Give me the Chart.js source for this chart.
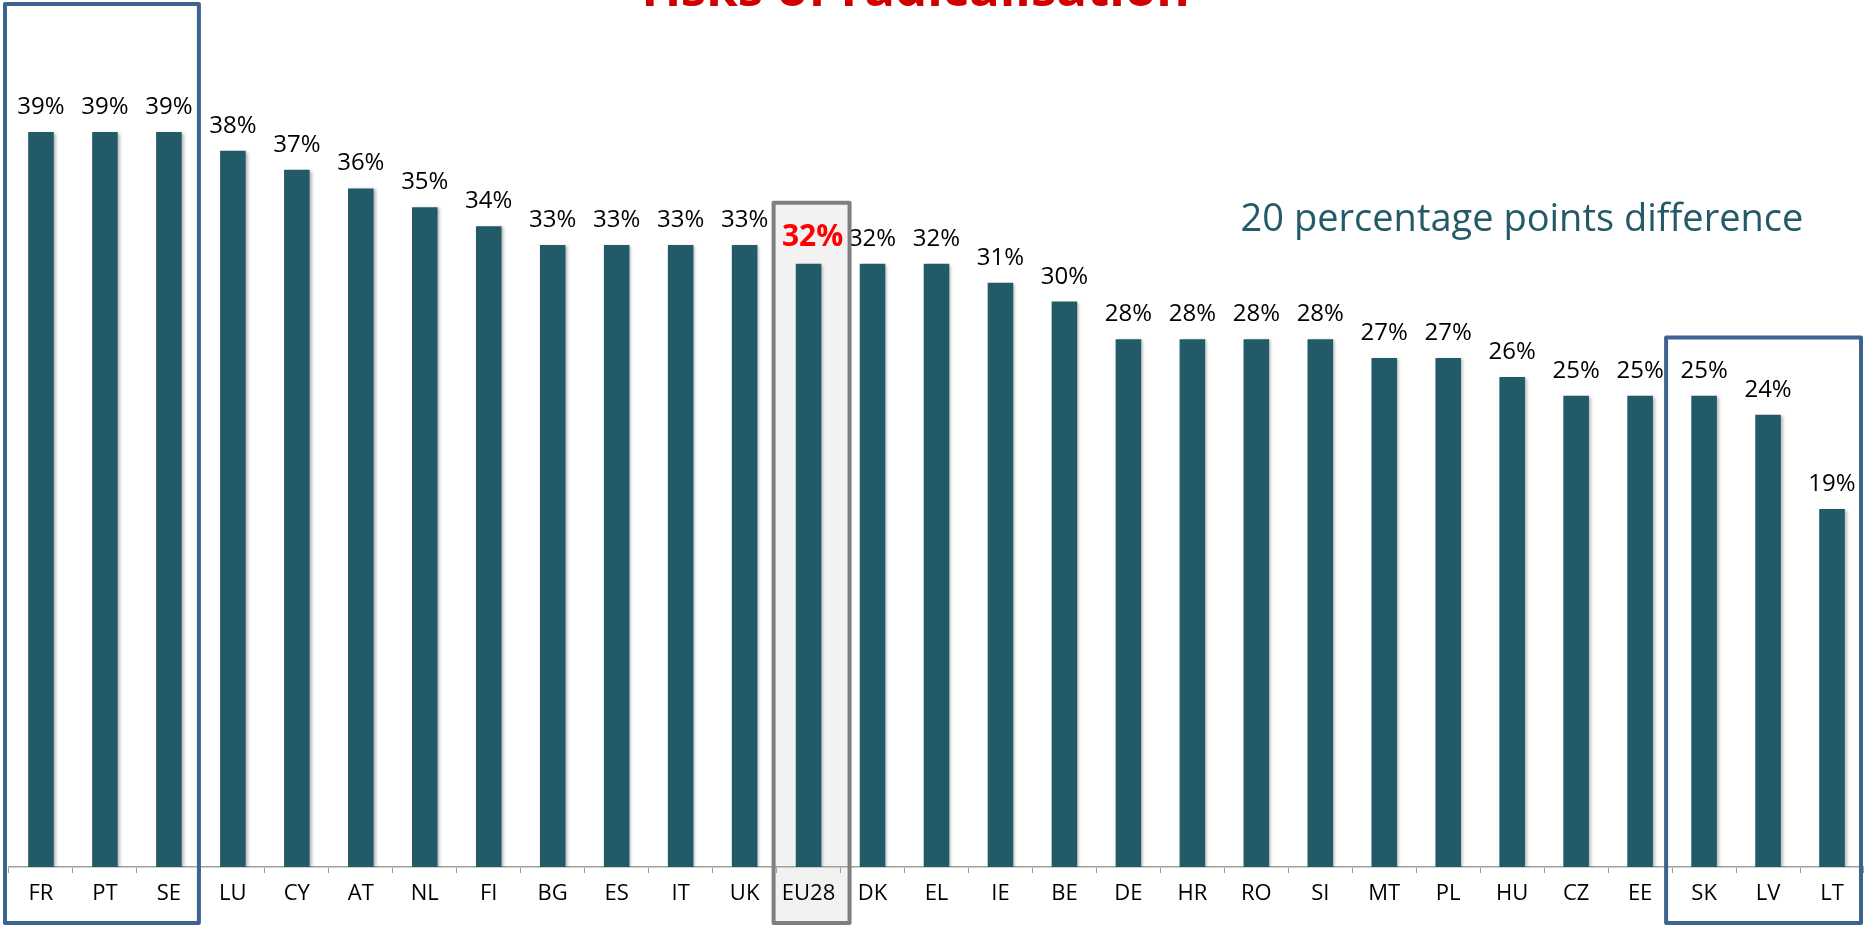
<!DOCTYPE html>
<html>
<head>
<meta charset="utf-8">
<script src="https://cdn.jsdelivr.net/npm/chart.js@4/dist/chart.umd.min.js"></script>
<style>
  html, body { margin: 0; padding: 0; background: #ffffff; }
  #wrap { width: 1864px; height: 927px; position: relative; }
  canvas { display: block; }
</style>
</head>
<body>
<div id="wrap"><canvas id="c" width="1864" height="927"></canvas></div>
<script>
// ---- data ----
const categories = ['FR','PT','SE','LU','CY','AT','NL','FI','BG','ES','IT','UK','EU28','DK','EL','IE','BE','DE','HR','RO','SI','MT','PL','HU','CZ','EE','SK','LV','LT'];
const values = [39,39,39,38,37,36,35,34,33,33,33,33,32,32,32,31,30,28,28,28,28,27,27,26,25,25,25,24,19];
const titleText = 'risks of radicalisation';
const noteText = '20 percentage points difference';
const highlightCategory = 'EU28';
const topGroup = ['FR','PT','SE'];
const bottomGroup = ['SK','LV','LT'];

const FONT = '"Open Sans", "DejaVu Sans", sans-serif';
const BAR_COLOR = '#225a68';

function catEdges(xs, name) {
  const i = categories.indexOf(name);
  const c = xs.getPixelForValue(i);
  const w = (xs.right - xs.left) / categories.length;
  return [c - w / 2, c + w / 2];
}

const decorPlugin = {
  id: 'decor',
  beforeDraw(chart) {
    const ctx = chart.ctx;
    const xs = chart.scales.x;
    const ys = chart.scales.y;
    const [l, r] = catEdges(xs, highlightCategory);
    const v = values[categories.indexOf(highlightCategory)];
    const top = ys.getPixelForValue(v) - 61;
    const x0 = l - 3, x1 = r + 9, y0 = top, y1 = 923;
    ctx.save();
    ctx.fillStyle = '#f2f2f2';
    ctx.fillRect(x0, y0, x1 - x0, y1 - y0);
    ctx.restore();
  },
  beforeDatasetsDraw(chart) {
    const ctx = chart.ctx;
    ctx.save();
    ctx.shadowColor = 'rgba(0,0,0,0.28)';
    ctx.shadowBlur = 3;
    ctx.shadowOffsetX = 2;
    ctx.shadowOffsetY = 1;
  },
  afterDatasetsDraw(chart) {
    const ctx = chart.ctx;
    ctx.restore();
    const meta = chart.getDatasetMeta(0);
    ctx.save();
    ctx.textAlign = 'center';
    ctx.textBaseline = 'alphabetic';
    meta.data.forEach((bar, i) => {
      const isHL = categories[i] === highlightCategory;
      ctx.font = isHL ? 'bold 30px ' + FONT : '24px ' + FONT;
      ctx.fillStyle = isHL ? '#ff0000' : '#000000';
      ctx.fillText(values[i] + '%', bar.x + (isHL ? 4 : 0), bar.y - 18);
    });
    ctx.restore();
  },
  afterDraw(chart) {
    const ctx = chart.ctx;
    const xs = chart.scales.x;
    const ys = chart.scales.y;
    ctx.save();
    const [l, r] = catEdges(xs, highlightCategory);
    const v = values[categories.indexOf(highlightCategory)];
    const top = ys.getPixelForValue(v) - 61;
    ctx.strokeStyle = '#7f7f7f';
    ctx.lineWidth = 4;
    ctx.lineJoin = 'round';
    ctx.strokeRect(l - 3, top, (r + 9) - (l - 3), 923 - top);
    ctx.strokeStyle = '#3f6391';
    const [a0] = catEdges(xs, topGroup[0]);
    const [, a1] = catEdges(xs, topGroup[topGroup.length - 1]);
    ctx.strokeRect(a0 - 4, 4, (a1 - 2) - (a0 - 4), 919);
    const [b0] = catEdges(xs, bottomGroup[0]);
    const [, b1] = catEdges(xs, bottomGroup[bottomGroup.length - 1]);
    const btop = ys.getPixelForValue(28.1);
    ctx.strokeRect(b0 - 6, btop, (b1 - 3) - (b0 - 6), 923 - btop);
    ctx.font = '38px ' + FONT;
    ctx.fillStyle = '#225a68';
    ctx.textAlign = 'center';
    ctx.textBaseline = 'alphabetic';
    ctx.fillText(noteText, 1522, 231);
    ctx.font = 'bold 51px ' + FONT;
    ctx.fillStyle = '#d00000';
    ctx.fillText(titleText, 916, 6);
    ctx.restore();
  }
};

new Chart(document.getElementById('c'), {
  type: 'bar',
  data: {
    labels: categories,
    datasets: [{
      data: values,
      backgroundColor: BAR_COLOR,
      borderWidth: 0,
      barPercentage: 0.40,
      categoryPercentage: 1.0
    }]
  },
  options: {
    responsive: false,
    animation: false,
    devicePixelRatio: 1,
    layout: { padding: { left: 9, right: 0, top: 0, bottom: 0 } },
    plugins: { legend: { display: false }, tooltip: { enabled: false }, title: { display: false } },
    scales: {
      y: { display: false, min: 0, max: 46 },
      x: {
        afterFit(scale) { scale.height = 60; },
        grid: { display: true, drawOnChartArea: false, drawTicks: true, tickLength: 6, color: '#a0a0a0', offset: true },
        border: { display: true, color: '#a0a0a0', width: 1.5 },
        ticks: { color: '#000000', font: { family: FONT, size: 22 }, padding: 8, maxRotation: 0, autoSkip: false }
      }
    }
  },
  plugins: [decorPlugin]
});
</script>
</body>
</html>
